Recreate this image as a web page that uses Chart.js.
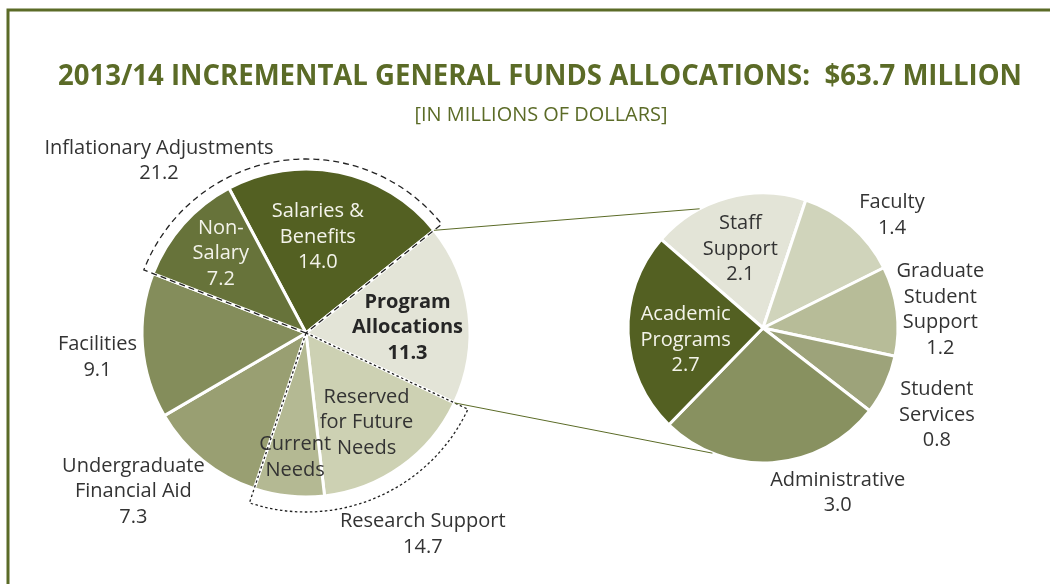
<!DOCTYPE html>
<html>
<head>
<meta charset="utf-8">
<style>
html,body{margin:0;padding:0;background:#fff;}
#wrap{position:relative;width:1050px;height:584px;overflow:hidden;}
#wrap canvas{position:absolute;left:0;top:0;}
</style>
</head>
<body>
<div id="wrap">
<canvas id="mainPie" width="1050" height="584"></canvas>
<canvas id="progPie" width="1050" height="584"></canvas>
</div>
<script src="https://cdn.jsdelivr.net/npm/chart.js@4.4.0/dist/chart.umd.min.js"></script>
<script>
const TITLE = '2013/14 INCREMENTAL GENERAL FUNDS ALLOCATIONS:  $63.7 MILLION';
const SUBTITLE = '[IN MILLIONS OF DOLLARS]';

// left pie, clockwise from "Salaries & Benefits"
const mainLabels = ['Salaries & Benefits', 'Program Allocations', 'Reserved for Future Needs', 'Current Needs', 'Undergraduate Financial Aid', 'Facilities', 'Non-Salary'];
const mainValues = [14.0, 11.3, 10.3, 4.4, 7.3, 9.1, 7.2];
const mainColors = ['#536022', '#e3e4d7', '#cdd1b3', '#b4b993', '#999f72', '#848d5b', '#67733a'];

// right pie = breakdown of Program Allocations
const progLabels = ['Staff Support', 'Faculty', 'Graduate Student Support', 'Student Services', 'Administrative', 'Academic Programs'];
const progValues = [2.1, 1.4, 1.2, 0.8, 3.0, 2.7];
const progColors = ['#e3e4d7', '#d0d4bb', '#b7bc98', '#9da37a', '#889160', '#536022'];

// groups of slices in the left pie (outlined with dashes)
const groupLabels = ['Inflationary Adjustments', 'Research Support'];
const groupMembers = [[6, 0], [2, 3]];

const OLIVE = '#5b6b27', DARK = '#333333', LIGHT = '#f3f3ea';
const FONT = '"Open Sans", "DejaVu Sans", sans-serif';
const fmt = v => v.toFixed(1);
const sum = idx => idx.reduce((s, i) => s + mainValues[i], 0);

// label layout: a = angle clockwise from 12 o'clock, k = distance / radius
const mainText = [
  {i: 0, lines: ['Salaries &', 'Benefits'], val: true, a: 7, k: 0.59, color: LIGHT},
  {i: 1, lines: ['Program', 'Allocations'], val: true, a: 87, k: 0.62, color: '#262626', bold: true},
  {i: 2, lines: ['Reserved', 'for Future', 'Needs'], a: 146, k: 0.66},
  {i: 3, lines: ['Current', 'Needs'], a: 185, k: 0.76},
  {i: 4, lines: ['Undergraduate', 'Financial Aid'], val: true, a: 227.4, k: 1.43},
  {i: 5, lines: ['Facilities'], val: true, a: 263.4, k: 1.28},
  {i: 6, lines: ['Non-', 'Salary'], val: true, a: 313, k: 0.71, color: LIGHT},
  {g: 0, lines: [groupLabels[0]], val: true, a: 319.5, k: 1.38},
  {g: 1, lines: [groupLabels[1]], val: true, a: 149.9, k: 1.42}
];
const progText = [
  {i: 0, lines: ['Staff', 'Support'], val: true, a: 344, k: 0.61},
  {i: 1, lines: ['Faculty'], val: true, a: 48.8, k: 1.27},
  {i: 2, lines: ['Graduate', 'Student', 'Support'], val: true, a: 84.2, k: 1.32},
  {i: 3, lines: ['Student', 'Services'], val: true, a: 116.6, k: 1.44},
  {i: 4, lines: ['Administrative'], val: true, a: 155.6, k: 1.34},
  {i: 5, lines: ['Academic', 'Programs'], val: true, a: 261, k: 0.58, color: LIGHT}
];

function polar(arc, deg, dist) {
  const t = (deg - 90) * Math.PI / 180;
  return {x: arc.x + Math.cos(t) * dist, y: arc.y + Math.sin(t) * dist};
}

function drawLabels(chart, spec, values) {
  const ctx = chart.ctx, arcs = chart.getDatasetMeta(0).data, a0 = arcs[0];
  const lh = 25.5;
  ctx.save();
  ctx.textAlign = 'center'; ctx.textBaseline = 'middle';
  for (const s of spec) {
    const lines = s.lines.slice();
    if (s.val) lines.push(fmt(s.g != null ? sum(groupMembers[s.g]) : values[s.i]));
    const p = polar(a0, s.a, a0.outerRadius * s.k);
    ctx.fillStyle = s.color || DARK;
    ctx.font = (s.bold ? 'bold ' : '') + '20px ' + FONT;
    lines.forEach((l, n) => ctx.fillText(l, p.x, p.y + (n - (lines.length - 1) / 2) * lh));
  }
  ctx.restore();
}

function groupOutline(ctx, arcs, from, to, extra, dash) {
  const c = arcs[0], R = c.outerRadius + extra;
  let s = arcs[from].startAngle, e = arcs[to].endAngle;
  if (e < s) e += Math.PI * 2;
  ctx.save();
  ctx.setLineDash(dash); ctx.lineWidth = 1.3; ctx.strokeStyle = '#222';
  ctx.beginPath();
  ctx.moveTo(c.x, c.y);
  ctx.arc(c.x, c.y, R, s, e);
  ctx.closePath();
  ctx.stroke();
  ctx.restore();
}

const mainDecor = {
  id: 'mainDecor',
  beforeDraw(chart) {
    const ctx = chart.ctx;
    ctx.save();
    ctx.strokeStyle = OLIVE; ctx.lineWidth = 3;
    ctx.beginPath(); ctx.moveTo(8, 600); ctx.lineTo(8, 10); ctx.lineTo(1060, 10); ctx.stroke();
    ctx.fillStyle = OLIVE; ctx.textAlign = 'center'; ctx.textBaseline = 'alphabetic';
    ctx.font = 'bold 28px ' + FONT;
    ctx.fillText(TITLE, 540, 85, 964);
    ctx.font = '20px ' + FONT;
    ctx.fillText(SUBTITLE, 541, 121, 253);
    ctx.restore();
  },
  afterDatasetsDraw(chart) {
    const arcs = chart.getDatasetMeta(0).data;
    groupOutline(chart.ctx, arcs, groupMembers[0][0], groupMembers[0][1], 10, [6, 4]);
    groupOutline(chart.ctx, arcs, groupMembers[1][0], groupMembers[1][1], 15, [2.5, 2.5]);
    drawLabels(chart, mainText, mainValues);
  }
};

function pieChart(id, labels, values, colors, pad, radius, rotation, plugin) {
  return new Chart(document.getElementById(id), {
    type: 'pie',
    data: {labels, datasets: [{data: values, backgroundColor: colors, borderColor: '#fff', borderWidth: 3, hoverOffset: 0}]},
    options: {
      responsive: false, animation: false, rotation, radius,
      layout: {padding: pad, autoPadding: false},
      events: [],
      plugins: {legend: {display: false}, tooltip: {enabled: false}}
    },
    plugins: [plugin]
  });
}

const mainChart = pieChart('mainPie', mainLabels, mainValues, mainColors,
  {left: 143, right: 581, top: 170, bottom: 88}, 164, -28, mainDecor);

const progDecor = {
  id: 'progDecor',
  afterDatasetsDraw(chart) {
    const ctx = chart.ctx;
    const la = mainChart.getDatasetMeta(0).data, src = la[1];
    const ra = chart.getDatasetMeta(0).data[0];
    const deg = r => r * 180 / Math.PI + 90;
    const ends = [
      [polar(src, deg(src.startAngle), src.outerRadius), polar(ra, 332, ra.outerRadius)],
      [polar(src, deg(src.endAngle), src.outerRadius), polar(ra, 202, ra.outerRadius)]
    ];
    ctx.save();
    ctx.strokeStyle = OLIVE; ctx.lineWidth = 1;
    for (const [p, q] of ends) { ctx.beginPath(); ctx.moveTo(p.x, p.y); ctx.lineTo(q.x, q.y); ctx.stroke(); }
    ctx.restore();
    drawLabels(chart, progText, progValues);
  }
};

const progChart = pieChart('progPie', progLabels, progValues, progColors,
  {left: 628, right: 152, top: 193, bottom: 121}, 135, -49, progDecor);
</script>
</body>
</html>
